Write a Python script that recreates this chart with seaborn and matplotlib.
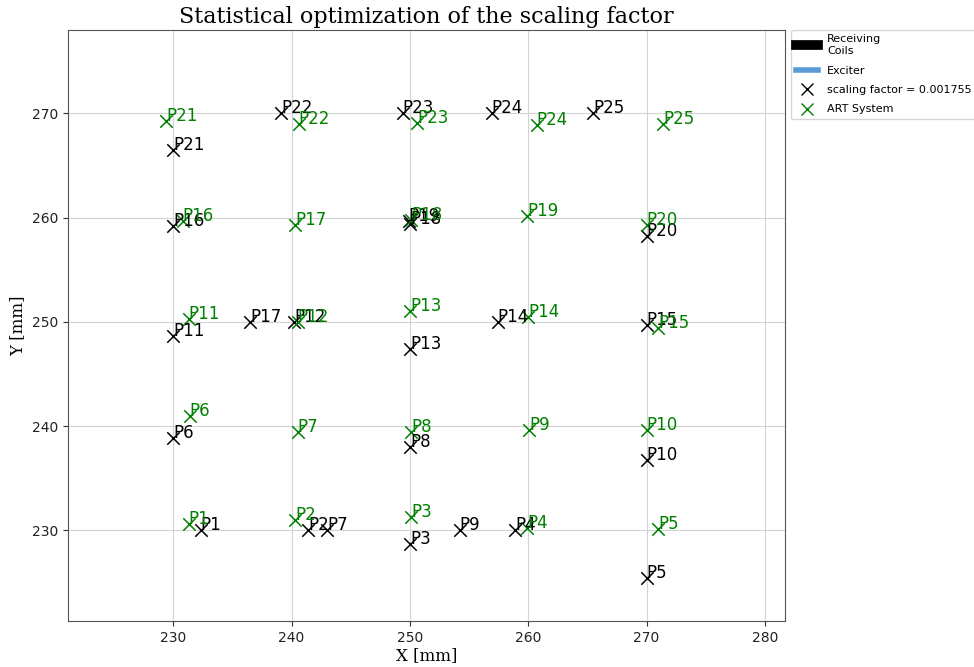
import matplotlib
matplotlib.use("Agg")
import matplotlib.pyplot as plt
import seaborn as sns
import pandas as pd
from matplotlib.lines import Line2D

labels = [f"P{i}" for i in range(1, 26)]

sf_x = [232.3, 241.4, 250.0, 258.9, 270.0,
        230.0, 243.0, 250.0, 254.2, 270.0,
        230.0, 240.2, 250.0, 257.4, 270.0,
        230.0, 236.5, 250.0, 249.9, 270.0,
        230.0, 239.1, 249.4, 256.9, 265.5]
sf_y = [230.0, 230.0, 228.7, 230.0, 225.4,
        238.9, 230.0, 238.0, 230.0, 236.7,
        248.6, 250.0, 247.4, 250.0, 249.7,
        259.2, 250.0, 259.4, 259.7, 258.2,
        266.5, 270.0, 270.0, 270.0, 270.0]

art_x = [231.3, 240.3, 250.1, 259.9, 271.0,
         231.4, 240.5, 250.1, 260.1, 270.0,
         231.3, 240.5, 250.0, 260.0, 271.0,
         230.8, 240.3, 250.1, 259.9, 270.0,
         229.4, 240.6, 250.6, 260.7, 271.4]
art_y = [230.6, 231.0, 231.3, 230.2, 230.1,
         241.0, 239.4, 239.4, 239.6, 239.6,
         250.3, 250.0, 251.0, 250.5, 249.4,
         259.7, 259.3, 259.8, 260.2, 259.3,
         269.3, 269.0, 269.1, 268.9, 269.0]

sf_label = "scaling factor = 0.001755"
art_label = "ART System"
xticks = [230, 240, 250, 260, 270, 280]
yticks = [230, 240, 250, 260, 270]

df_sf = pd.DataFrame({"x": sf_x, "y": sf_y, "name": labels})
df_art = pd.DataFrame({"x": art_x, "y": art_y, "name": labels})

fig = plt.figure(figsize=(9.74, 6.67), dpi=100)
ax = fig.add_axes([0.0698, 0.069, 0.7362, 0.886])

sns.scatterplot(data=df_sf, x="x", y="y", marker="x", color="black", s=80,
                linewidth=1.1, ax=ax, zorder=3)
sns.scatterplot(data=df_art, x="x", y="y", marker="x", color="green", s=80,
                linewidth=1.1, ax=ax, zorder=3)

for x, y, n in zip(sf_x, sf_y, labels):
    ax.text(x, y, n, color="black", fontsize=12, zorder=4)
for x, y, n in zip(art_x, art_y, labels):
    ax.text(x, y, n, color="green", fontsize=12, zorder=4)

ax.set_xlim(221.1, 281.7)
ax.set_ylim(221.3, 278.0)
ax.set_xticks(xticks)
ax.set_yticks(yticks)
ax.tick_params(labelsize=10, colors="#333333", labelcolor="#222222")
for sp in ax.spines.values():
    sp.set_color("#555555")
ax.grid(True, color="#d3d3d3", linewidth=0.8)
ax.set_axisbelow(True)

ax.set_title("Statistical optimization of the scaling factor",
             family="DejaVu Serif", fontsize=16, pad=5)
ax.set_xlabel("X [mm]", family="DejaVu Serif", fontsize=12, labelpad=2)
ax.set_ylabel("Y [mm]", family="DejaVu Serif", fontsize=12)

handles = [
    Line2D([0], [0], color="black", lw=7),
    Line2D([0], [0], color="#5b9bd5", lw=4),
    Line2D([0], [0], color="black", marker="x", linestyle="none", markersize=9),
    Line2D([0], [0], color="green", marker="x", linestyle="none", markersize=9),
]
names = ["Receiving\nCoils", "Exciter", sf_label, art_label]
ax.legend(handles, names, loc="upper left", bbox_to_anchor=(1.009, 1.0),
          fontsize=8, borderaxespad=0.0, labelspacing=0.85)

fig.savefig("out.png", dpi=100)
